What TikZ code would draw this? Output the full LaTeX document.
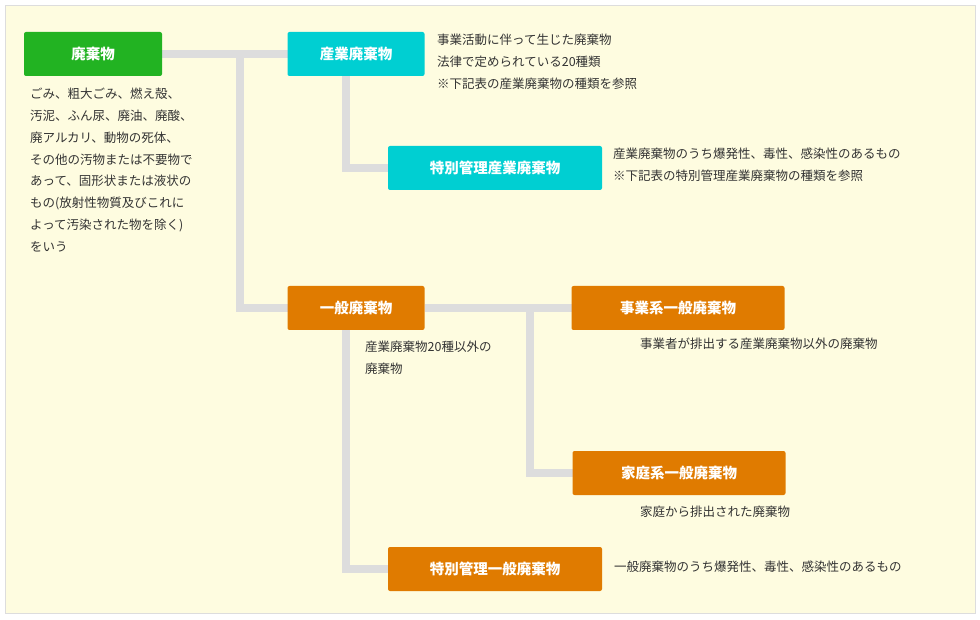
\documentclass[tikz,border=0pt]{standalone}
\usepackage{fontspec}
\setmainfont{Noto Sans CJK JP}
\newfontfamily\jpbold[FakeBold=1.5]{Noto Sans CJK JP}
\definecolor{bgyellow}{HTML}{FEFCE0}
\definecolor{wgreen}{HTML}{22B322}
\definecolor{wcyan}{HTML}{00CFD2}
\definecolor{worange}{HTML}{E07B00}
\definecolor{wline}{HTML}{DDDDDD}
\definecolor{wtext}{HTML}{333333}
\begin{document}
\begin{tikzpicture}[x=1pt,y=-1pt,
  box/.style={rounded corners=2pt,text=white,minimum height=44pt,
    font=\fontsize{14.5}{16}\selectfont\bfseries},
  note/.style={anchor=north west,align=left,inner sep=0pt,text=wtext,
    font=\fontsize{12.5}{21.8}\selectfont},
  link/.style={wline,line width=8pt}]
\useasboundingbox (0,0) rectangle (980,620);
\draw[fill=bgyellow,draw=wline] (5,5) rectangle (975,613);
% connectors
\coordinate (j1) at (240,54);
\coordinate (j2) at (240,308);
\coordinate (j3) at (346,168);
\coordinate (j4) at (346,569);
\coordinate (j5) at (530,308);
\coordinate (j6) at (530,473);
\draw[link] (162,54) -- (288,54);
\draw[link] (j1) -- (j2) -- (288,308);
\draw[link] (346,76) -- (j3) -- (388,168);
\draw[link] (346,330) -- (j4) -- (388,569);
\draw[link] (425,308) -- (572,308);
\draw[link] (j5) -- (j6) -- (573,473);
% boxes
\node[box,fill=wgreen,minimum width=138pt] (haiki) at (93,54) {廃棄物};
\node[box,fill=wcyan,minimum width=137pt] (sangyo) at (356,54) {産業廃棄物};
\node[box,fill=wcyan,minimum width=214pt] (tokusan) at (495,168) {特別管理産業廃棄物};
\node[box,fill=worange,minimum width=137pt] (ippan) at (356,308) {一般廃棄物};
\node[box,fill=worange,minimum width=213pt] (jigyo) at (678,308) {事業系一般廃棄物};
\node[box,fill=worange,minimum width=213pt] (katei) at (679,473) {家庭系一般廃棄物};
\node[box,fill=worange,minimum width=214pt] (tokuippan) at (495,569) {特別管理一般廃棄物};
% notes
\node[note] (nhaiki) at (30,88) {ごみ、粗大ごみ、燃え殻、\\汚泥、ふん尿、廃油、廃酸、\\廃アルカリ、動物の死体、\\その他の汚物または不要物で\\あって、固形状または液状の\\もの(放射性物質及びこれに\\よって汚染された物を除く)\\をいう};
\node[note] (nsangyo) at (437,34) {事業活動に伴って生じた廃棄物\\法律で定められている20種類\\※下記表の産業廃棄物の種類を参照};
\node[note] (ntokusan) at (613,148) {産業廃棄物のうち爆発性、毒性、感染性のあるもの\\※下記表の特別管理産業廃棄物の種類を参照};
\node[note] (nippan) at (365,341) {産業廃棄物20種以外の\\廃棄物};
\node[note] (njigyo) at (640,338) {事業者が排出する産業廃棄物以外の廃棄物};
\node[note] (nkatei) at (640,506) {家庭から排出された廃棄物};
\node[note] (ntokuippan) at (614,561) {一般廃棄物のうち爆発性、毒性、感染性のあるもの};
\end{tikzpicture}
\end{document}
